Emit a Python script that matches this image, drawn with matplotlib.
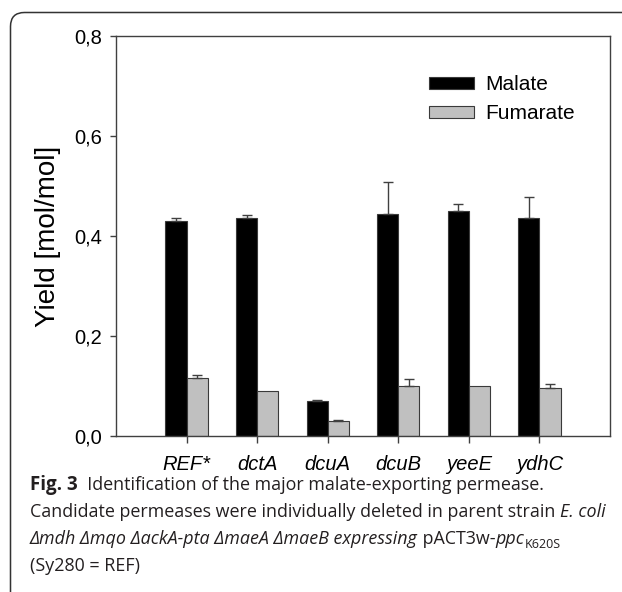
import numpy as np
import matplotlib
matplotlib.use('Agg')
import matplotlib.pyplot as plt
from matplotlib import font_manager
from matplotlib.patches import FancyBboxPatch
from matplotlib.transforms import IdentityTransform

strains = ['REF*', 'dctA', 'dcuA', 'dcuB', 'yeeE', 'ydhC']
malate = [0.431, 0.436, 0.071, 0.445, 0.451, 0.436]
malate_err = [0.006, 0.007, 0.001, 0.064, 0.014, 0.043]
fumarate = [0.116, 0.091, 0.031, 0.101, 0.101, 0.097]
fumarate_err = [0.006, 0.0, 0.002, 0.014, 0.0, 0.007]
yticks = [0.0, 0.2, 0.4, 0.6, 0.8]
ytick_labels = ['0,0', '0,2', '0,4', '0,6', '0,8']

W, H = 622, 592
installed = {f.name for f in font_manager.fontManager.ttflist}
narrow = 'Liberation Sans Narrow' if 'Liberation Sans Narrow' in installed else 'Liberation Sans'
cap_font = 'Open Sans'

fig = plt.figure(figsize=(W / 100, H / 100), dpi=100)
ax = fig.add_axes([116 / W, 1 - 436 / H, 494 / W, 400 / H])

x = np.arange(len(strains))
w = 0.30
edge = '#3a3a3a'
ax.bar(x - w / 2, malate, w, color='black', edgecolor=edge, linewidth=0.8, label='Malate', zorder=2)
ax.bar(x + w / 2, fumarate, w, color='#c0c0c0', edgecolor=edge, linewidth=0.8, label='Fumarate', zorder=2)

# nur nach oben gerichtete Fehlerbalken
for xs, vals, errs in [(x - w / 2, malate, malate_err), (x + w / 2, fumarate, fumarate_err)]:
    for xi, v, e in zip(xs, vals, errs):
        if e > 0:
            ax.errorbar(xi, v, yerr=[[0], [e]], fmt='none', ecolor='#404040',
                        elinewidth=1.0, capsize=3.8, capthick=1.0, zorder=3)

ax.set_xlim(-1, 6)
ax.set_ylim(0, 0.8)
ax.set_yticks(yticks)
ax.set_yticklabels(ytick_labels, family=narrow, fontsize=14.5)
ax.set_xticks(x)
ax.set_xticklabels(strains, family=narrow, fontsize=14.5, style='italic')
ax.tick_params(axis='y', direction='out', length=4, width=1, color='#404040', pad=6)
ax.tick_params(axis='x', direction='out', length=5, width=1, color='#404040', pad=9)
for s in ax.spines.values():
    s.set_color('#404040')
    s.set_linewidth(1.0)

ax.set_ylabel('Yield [mol/mol]', family='Liberation Sans', fontsize=20)
ax.yaxis.label.set_va('center')
ax.yaxis.set_label_coords(-0.138, 0.5)

ax.legend(loc='upper left', bbox_to_anchor=((429 - 116) / 494, 1 - (75 - 36) / 400),
          frameon=False, borderpad=0, borderaxespad=0, handlelength=2.15, handleheight=0.5,
          handletextpad=0.55, labelspacing=0.5, prop={'family': narrow, 'size': 15})

# Rahmen mit abgerundeter Ecke
frame = FancyBboxPatch((10.5, -60), 700, (H - 12.5) + 60, boxstyle='round,pad=0,rounding_size=14',
                       transform=IdentityTransform(), facecolor='none', edgecolor='#333333', linewidth=1.1)
fig.add_artist(frame)

renderer = fig.canvas.get_renderer()


def runs(x0, y0, parts):
    xc = x0
    for txt, kw in parts:
        dy = kw.pop('dy', 0)
        t = fig.text(xc / W, 1 - (y0 + dy) / H, txt, va='baseline', ha='left',
                     color='#231f20', **kw)
        xc += t.get_window_extent(renderer).width
    return xc


fs = 12.9
base = dict(family=cap_font, fontsize=fs)
ital = dict(family=cap_font, fontsize=fs, style='italic')
lines = [
    [('Fig. 3', dict(family=cap_font, fontsize=fs + 0.6, weight='bold')),
     ('  Identification of the major malate-exporting permease.', dict(base))],
    [('Candidate permeases were individually deleted in parent strain ', dict(base)),
     ('E. coli', dict(ital))],
    [('Δmdh Δmqo ΔackA-pta ΔmaeA ΔmaeB expressing', dict(ital)),
     (' pACT3w-', dict(base)), ('ppc', dict(ital)),
     ('K620S', dict(family=cap_font, fontsize=9, dy=4))],
    [('(Sy280 = REF)', dict(base))],
]
y0 = 490
for ln in lines:
    runs(30, y0, ln)
    y0 += 27

fig.savefig('out.png', dpi=100)
